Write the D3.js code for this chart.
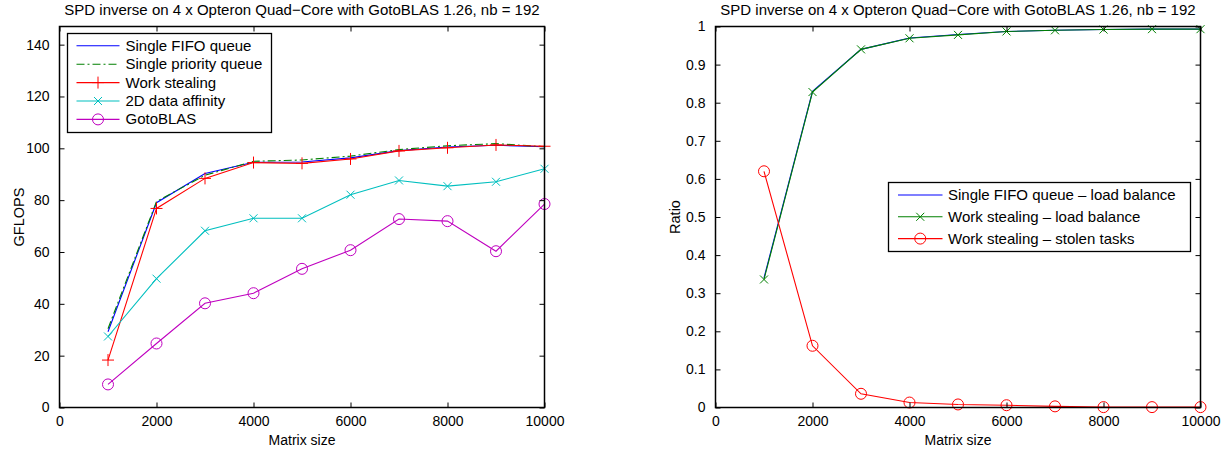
<!DOCTYPE html>
<html>
<head>
<meta charset="utf-8">
<script src="https://cdn.jsdelivr.net/npm/d3@7"></script>
<style>
  body { margin: 0; background: #fff; }
  svg { display: block; font-family: "Liberation Sans", Arial, Helvetica, sans-serif; }
</style>
</head>
<body>
<svg id="chart" width="1230" height="451"></svg>
<script>
// matrix sizes (x axis)
const sizes = [1000, 2000, 3000, 4000, 5000, 6000, 7000, 8000, 9000, 10000];

// left plot - GFLOPS
const fifoGflops     = [29.2, 79.0, 90.3, 94.6, 94.7, 96.3, 99.1, 100.5, 101.2, 100.6];
const priorityGflops = [30.4, 79.5, 89.6, 95.0, 95.5, 97.0, 99.5, 101.0, 101.8, 100.6];
const stealGflops    = [18.3, 76.8, 88.4, 94.5, 94.2, 95.9, 99.0, 100.2, 101.3, 100.8];
const affinityGflops = [27.4, 49.7, 68.2, 73.0, 73.0, 82.1, 87.6, 85.4, 87.1, 92.1];
const gotoGflops     = [8.9, 24.7, 40.2, 44.1, 53.5, 60.7, 72.7, 71.9, 60.3, 78.5];

// right plot - ratios
const fifoBalance  = [0.340, 0.830, 0.940, 0.970, 0.979, 0.987, 0.990, 0.992, 0.993, 0.993];
const stealBalance = [0.336, 0.828, 0.940, 0.969, 0.978, 0.987, 0.990, 0.992, 0.993, 0.993];
const stolenTasks  = [0.620, 0.162, 0.036, 0.013, 0.008, 0.006, 0.003, 0.001, 0.001, 0.001];

const xTicks = [0, 2000, 4000, 6000, 8000, 10000];
const leftYTicks = [0, 20, 40, 60, 80, 100, 120, 140];
const rightYTicks = [0, 0.1, 0.2, 0.3, 0.4, 0.5, 0.6, 0.7, 0.8, 0.9, 1];

const title = "SPD inverse on 4 x Opteron Quad\u2212Core with GotoBLAS 1.26, nb = 192";

const svg = d3.select("#chart");

function markerPath(g, type, x, y, color) {
    if (type === "plus") {
        g.append("path")
            .attr("d", "M" + (x - 6) + "," + y + "H" + (x + 6) + "M" + x + "," + (y - 6) + "V" + (y + 6))
            .attr("stroke", color).attr("stroke-width", 1).attr("fill", "none");
    } else if (type === "cross") {
        g.append("path")
            .attr("d", "M" + (x - 4) + "," + (y - 4) + "L" + (x + 4) + "," + (y + 4) + "M" + (x - 4) + "," + (y + 4) + "L" + (x + 4) + "," + (y - 4))
            .attr("stroke", color).attr("stroke-width", 1).attr("fill", "none");
    } else if (type === "circle") {
        g.append("circle")
            .attr("cx", x).attr("cy", y).attr("r", 5.5)
            .attr("stroke", color).attr("stroke-width", 1).attr("fill", "none");
    }
}

function drawPanel(opts) {
    const x = d3.scaleLinear().domain([0, 10000]).range([opts.left, opts.right]);
    const y = d3.scaleLinear().domain(opts.yDomain).range([opts.bottom, opts.top]);
    const g = svg.append("g");

    // series
    opts.series.forEach(function (s) {
        const line = d3.line()
            .x(function (d, i) { return x(sizes[i]); })
            .y(function (d) { return y(d); });
        g.append("path")
            .datum(s.values)
            .attr("d", line)
            .attr("fill", "none")
            .attr("stroke", s.color)
            .attr("stroke-width", 1.1)
            .attr("stroke-dasharray", s.dash || null);
        if (s.marker) {
            s.values.forEach(function (d, i) {
                markerPath(g, s.marker, x(sizes[i]), y(d), s.color);
            });
        }
    });

    // axes: bottom, left, top and right (inward ticks)
    const fmt = opts.fmt;
    const bottomAxis = g.append("g")
        .attr("transform", "translate(0," + opts.bottom + ")")
        .call(d3.axisBottom(x).tickValues(xTicks).tickSizeInner(-5).tickSizeOuter(0).tickPadding(9).tickFormat(d3.format("d")));
    const leftAxis = g.append("g")
        .attr("transform", "translate(" + opts.left + ",0)")
        .call(d3.axisLeft(y).tickValues(opts.yTicks).tickSizeInner(-5).tickSizeOuter(0).tickPadding(10).tickFormat(fmt));
    const topAxis = g.append("g")
        .attr("transform", "translate(0," + opts.top + ")")
        .call(d3.axisTop(x).tickValues(xTicks).tickSizeInner(-5).tickSizeOuter(0).tickFormat(""));
    const rightAxis = g.append("g")
        .attr("transform", "translate(" + opts.right + ",0)")
        .call(d3.axisRight(y).tickValues(opts.yTicks).tickSizeInner(-5).tickSizeOuter(0).tickFormat(""));

    [bottomAxis, leftAxis, topAxis, rightAxis].forEach(function (a) {
        a.select(".domain").remove();
        a.selectAll(".tick line").attr("stroke", "#000").attr("stroke-width", 1);
        a.selectAll("text").attr("font-size", "14px").attr("font-family", null).attr("fill", "#000");
    });

    g.append("rect")
        .attr("x", opts.left).attr("y", opts.top)
        .attr("width", opts.right - opts.left).attr("height", opts.bottom - opts.top)
        .attr("fill", "none").attr("stroke", "#000").attr("stroke-width", 1.5);

    // title and labels
    g.append("text")
        .attr("x", (opts.left + opts.right) / 2).attr("y", 15)
        .attr("text-anchor", "middle").attr("font-size", "15px")
        .text(title);
    g.append("text")
        .attr("x", (opts.left + opts.right) / 2).attr("y", opts.bottom + 37)
        .attr("text-anchor", "middle").attr("font-size", "14px")
        .text("Matrix size");
    g.append("text")
        .attr("transform", "translate(" + (opts.left - 36) + "," + ((opts.top + opts.bottom) / 2) + ") rotate(-90)")
        .attr("text-anchor", "middle").attr("font-size", "14.5px")
        .text(opts.yLabel);

    // legend
    const lg = opts.legend;
    const leg = g.append("g");
    leg.append("rect")
        .attr("x", lg.x).attr("y", lg.y).attr("width", lg.w).attr("height", lg.h)
        .attr("fill", "#fff").attr("stroke", "#000").attr("stroke-width", 1.3);
    opts.series.forEach(function (s, i) {
        const cy = lg.y + lg.first + i * lg.step;
        leg.append("line")
            .attr("x1", lg.x + lg.lineStart).attr("x2", lg.x + lg.lineEnd)
            .attr("y1", cy).attr("y2", cy)
            .attr("stroke", s.color).attr("stroke-width", 1.1)
            .attr("stroke-dasharray", s.dash || null);
        if (s.marker) {
            markerPath(leg, s.marker, lg.x + (lg.lineStart + lg.lineEnd) / 2, cy, s.color);
        }
        leg.append("text")
            .attr("x", lg.x + lg.textStart).attr("y", cy + 5)
            .attr("font-size", "15px")
            .text(s.name);
    });
}

drawPanel({
    left: 59.5, right: 544.5, top: 26.5, bottom: 407.5,
    yDomain: [0, 147], yTicks: leftYTicks, fmt: d3.format("d"),
    yLabel: "GFLOPS",
    series: [
        { name: "Single FIFO queue", values: fifoGflops, color: "#0000ff" },
        { name: "Single priority queue", values: priorityGflops, color: "#008000", dash: "8,3,2,3" },
        { name: "Work stealing", values: stealGflops, color: "#ff0000", marker: "plus" },
        { name: "2D data affinity", values: affinityGflops, color: "#00bfbf", marker: "cross" },
        { name: "GotoBLAS", values: gotoGflops, color: "#bf00bf", marker: "circle" }
    ],
    legend: { x: 67.5, y: 33.5, w: 204, h: 99, first: 12.3, step: 18.4, lineStart: 9, lineEnd: 52, textStart: 58 }
});

drawPanel({
    left: 715.5, right: 1200.5, top: 26.5, bottom: 407.5,
    yDomain: [0, 1], yTicks: rightYTicks, fmt: function (d) { return d === 0 || d === 1 ? String(d) : d3.format(".1f")(d); },
    yLabel: "Ratio",
    series: [
        { name: "Single FIFO queue \u2013 load balance", values: fifoBalance, color: "#0000ff" },
        { name: "Work stealing \u2013 load balance", values: stealBalance, color: "#008000", marker: "cross" },
        { name: "Work stealing \u2013 stolen tasks", values: stolenTasks, color: "#ff0000", marker: "circle" }
    ],
    legend: { x: 888.5, y: 182.5, w: 302, h: 69, first: 12.5, step: 21.8, lineStart: 9.5, lineEnd: 54, textStart: 59.5 }
});
</script>
</body>
</html>
